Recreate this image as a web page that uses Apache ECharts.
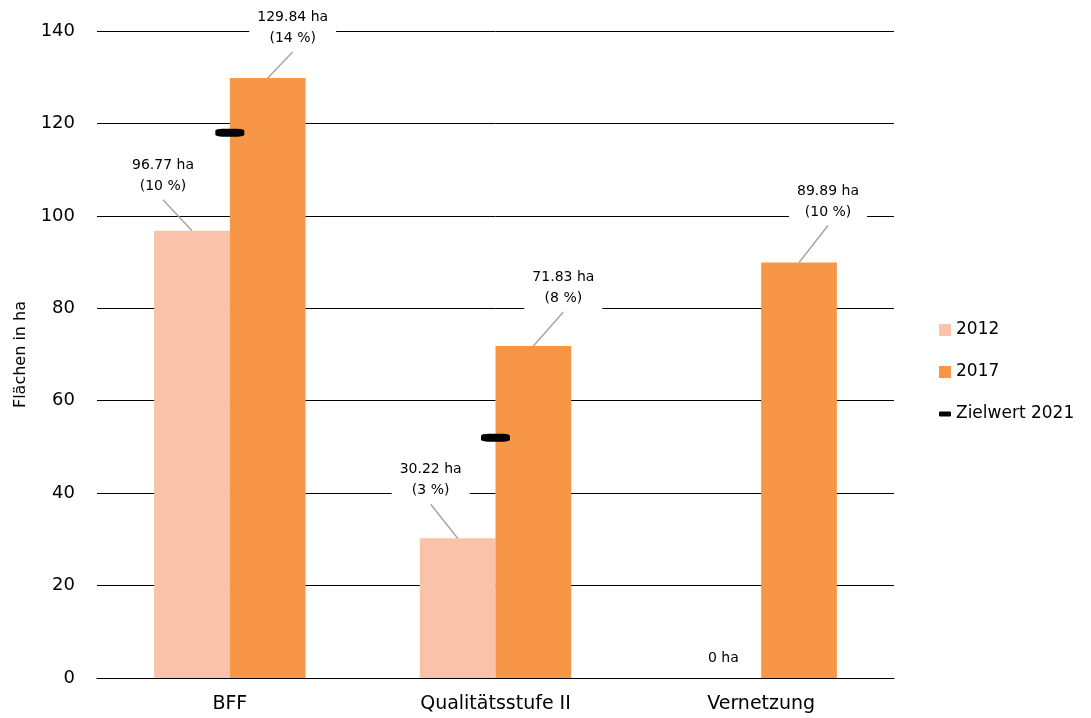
<!DOCTYPE html>
<html>
<head>
<meta charset="utf-8">
<script src="https://cdn.jsdelivr.net/npm/echarts@6/dist/echarts.min.js"></script>
<style>
  html, body { margin: 0; padding: 0; background: #fff; }
  #chart { width: 1091px; height: 718px; }
</style>
</head>
<body>
<div id="chart"></div>
<script>
// categories and values
const categories = ['BFF', 'Qualitätsstufe II', 'Vernetzung'];
const values2012 = [96.77, 30.22, 0];
const values2017 = [129.84, 71.83, 89.89];
const share2012 = [10, 3, null];
const share2017 = [14, 8, 10];
const target2021 = [118, 52, '-'];
const yTicks = { min: 0, max: 140, interval: 20 };

// where the labels sit relative to the top of their bar (dx, dy)
const labelOffsets = [
  [[-29, -31], [-27, -34], null],
  [[25, -26], [30, -34], [29, -37]]
];

const FONT = "'DejaVu Sans', Verdana, sans-serif";
const CAT_GAP = 0.43;
const chart = echarts.init(document.getElementById('chart'));

function labelText(vals, shares) {
  return function (p) {
    const v = vals[p.dataIndex];
    if (shares[p.dataIndex] == null) return v + ' ha';
    return v.toFixed(2) + ' ha\n(' + shares[p.dataIndex] + ' %)';
  };
}

// move bar labels up and aside, like the original
function placeLabel(p) {
  const off = labelOffsets[p.seriesIndex][p.dataIndex];
  const cx = p.rect.x + p.rect.width / 2;
  const top = p.rect.y;
  if (!off) {
    return { x: cx, y: top - 6, align: 'center', verticalAlign: 'bottom' };
  }
  return { x: cx + off[0], y: top + off[1], align: 'center', verticalAlign: 'bottom' };
}

// grey leader line from the top of each bar to its label
function leaderLine(params, api) {
  const cat = api.value(0);
  const s = api.value(2);
  const off = labelOffsets[s][cat];
  if (!off) return;
  const pt = api.coord([cat, api.value(1)]);
  const barW = api.size([1, 0])[0] * (1 - CAT_GAP) / 2;
  const cx = pt[0] + (s === 0 ? -barW / 2 : barW / 2);
  return {
    type: 'line',
    silent: true,
    shape: { x1: cx, y1: pt[1], x2: cx + off[0], y2: pt[1] + off[1] },
    style: { stroke: '#A6A6A6', lineWidth: 1.5 }
  };
}

const leaderData = [];
values2012.forEach(function (v, i) { leaderData.push([i, v, 0]); });
values2017.forEach(function (v, i) { leaderData.push([i, v, 1]); });

const barLabel = {
  show: true,
  position: 'top',
  fontFamily: FONT,
  fontSize: 14,
  lineHeight: 21,
  color: '#000',
  backgroundColor: '#fff',
  padding: [1, 8, 3, 8]
};

const option = {
  animation: false,
  textStyle: { fontFamily: FONT },
  grid: { left: 97, right: 197, top: 31, bottom: 40 },
  legend: {
    orient: 'vertical',
    left: 934,
    top: 315,
    itemWidth: 12,
    itemHeight: 12,
    itemGap: 22,
    textStyle: { fontFamily: FONT, fontSize: 17, lineHeight: 20, color: '#000' },
    data: [
      { name: '2012', icon: 'rect' },
      { name: '2017', icon: 'rect' },
      { name: 'Zielwert 2021', icon: 'path://M1,0 L11,0 Q12,0 12,1 L12,4 Q12,5 11,5 L1,5 Q0,5 0,4 L0,1 Q0,0 1,0 Z' }
    ]
  },
  xAxis: {
    type: 'category',
    data: categories,
    axisLine: { lineStyle: { color: '#000', width: 1 } },
    axisTick: { show: false },
    axisLabel: { fontFamily: FONT, fontSize: 19, color: '#000', margin: 17 }
  },
  yAxis: {
    type: 'value',
    min: yTicks.min,
    max: yTicks.max,
    interval: yTicks.interval,
    name: 'Flächen in ha',
    nameLocation: 'middle',
    nameGap: 68,
    nameTextStyle: { fontFamily: FONT, fontSize: 16, color: '#000' },
    axisLine: { show: false },
    axisTick: { show: false },
    axisLabel: { fontFamily: FONT, fontSize: 18, color: '#000', margin: 22 },
    splitLine: { lineStyle: { color: '#000', width: 1 } }
  },
  series: [
    {
      name: '2012',
      type: 'bar',
      barGap: '0%',
      barCategoryGap: (CAT_GAP * 100) + '%',
      itemStyle: { color: '#F8C3A8' },
      label: Object.assign({}, barLabel, { formatter: labelText(values2012, share2012) }),
      labelLayout: placeLabel,
      data: values2012
    },
    {
      name: '2017',
      type: 'bar',
      barGap: '0%',
      barCategoryGap: (CAT_GAP * 100) + '%',
      itemStyle: { color: '#F79646' },
      label: Object.assign({}, barLabel, { formatter: labelText(values2017, share2017) }),
      labelLayout: placeLabel,
      data: values2017
    },
    {
      name: 'leader',
      type: 'custom',
      silent: true,
      z: 3,
      renderItem: leaderLine,
      data: leaderData
    },
    {
      name: 'Zielwert 2021',
      type: 'scatter',
      symbol: 'roundRect',
      symbolSize: [29, 8],
      itemStyle: { color: '#000', opacity: 1 },
      z: 5,
      data: target2021
    }
  ]
};

chart.setOption(option);
</script>
</body>
</html>
